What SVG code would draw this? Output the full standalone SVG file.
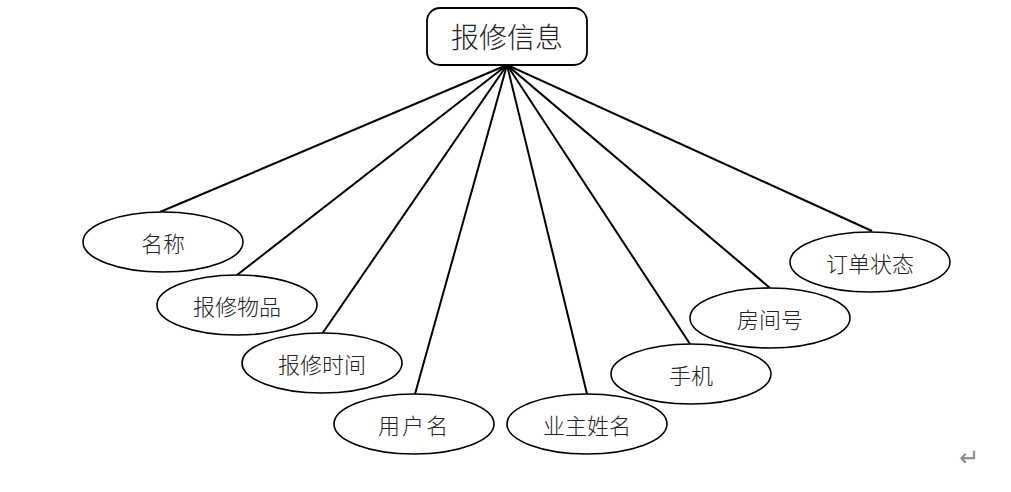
<svg xmlns="http://www.w3.org/2000/svg" width="1011" height="492" viewBox="0 0 1011 492">
<style>
.e{fill:#fff;stroke:#000;stroke-width:1.6}
.t{font-family:"Noto Sans CJK SC","Noto Sans",sans-serif;font-size:22px;font-weight:300;fill:#222;text-anchor:middle;dominant-baseline:central}
.c line{stroke:#000;stroke-width:2}
</style>
<rect width="1011" height="492" fill="#fff"/>
<g class="c" id="connectors">
<line x1="507" y1="65" x2="160" y2="212"/>
<line x1="507" y1="65" x2="237" y2="275"/>
<line x1="507" y1="65" x2="322" y2="334"/>
<line x1="507" y1="65" x2="415" y2="394"/>
<line x1="507" y1="65" x2="587" y2="394"/>
<line x1="507" y1="65" x2="690" y2="344"/>
<line x1="507" y1="65" x2="770" y2="288"/>
<line x1="507" y1="65" x2="872" y2="231"/>
</g>
<g id="root"><rect x="427" y="8" width="160" height="57" rx="13" fill="#fff" stroke="#000" stroke-width="1.8"/><text class="t" x="507" y="36" style="font-size:28px">报修信息</text></g>
<g id="n1"><ellipse class="e" cx="163" cy="242" rx="80" ry="30"/><text class="t" x="163" y="242">名称</text></g>
<g id="n2"><ellipse class="e" cx="237" cy="305" rx="80" ry="30"/><text class="t" x="237" y="305">报修物品</text></g>
<g id="n3"><ellipse class="e" cx="322" cy="363" rx="80" ry="30"/><text class="t" x="322" y="363">报修时间</text></g>
<g id="n4"><ellipse class="e" cx="414" cy="424" rx="80" ry="30"/><text class="t" x="414" y="424" letter-spacing="2">用户名</text></g>
<g id="n5"><ellipse class="e" cx="587" cy="424" rx="80" ry="30"/><text class="t" x="587" y="424">业主姓名</text></g>
<g id="n6"><ellipse class="e" cx="691" cy="374" rx="80" ry="30"/><text class="t" x="691" y="374">手机</text></g>
<g id="n7"><ellipse class="e" cx="770" cy="318" rx="80" ry="30"/><text class="t" x="770" y="318">房间号</text></g>
<g id="n8"><ellipse class="e" cx="870" cy="262" rx="80" ry="30"/><text class="t" x="870" y="262">订单状态</text></g>
<text x="969" y="458" style="font-family:'DejaVu Sans',sans-serif;font-size:24px;fill:#888;text-anchor:middle;dominant-baseline:central">↵</text>
</svg>
